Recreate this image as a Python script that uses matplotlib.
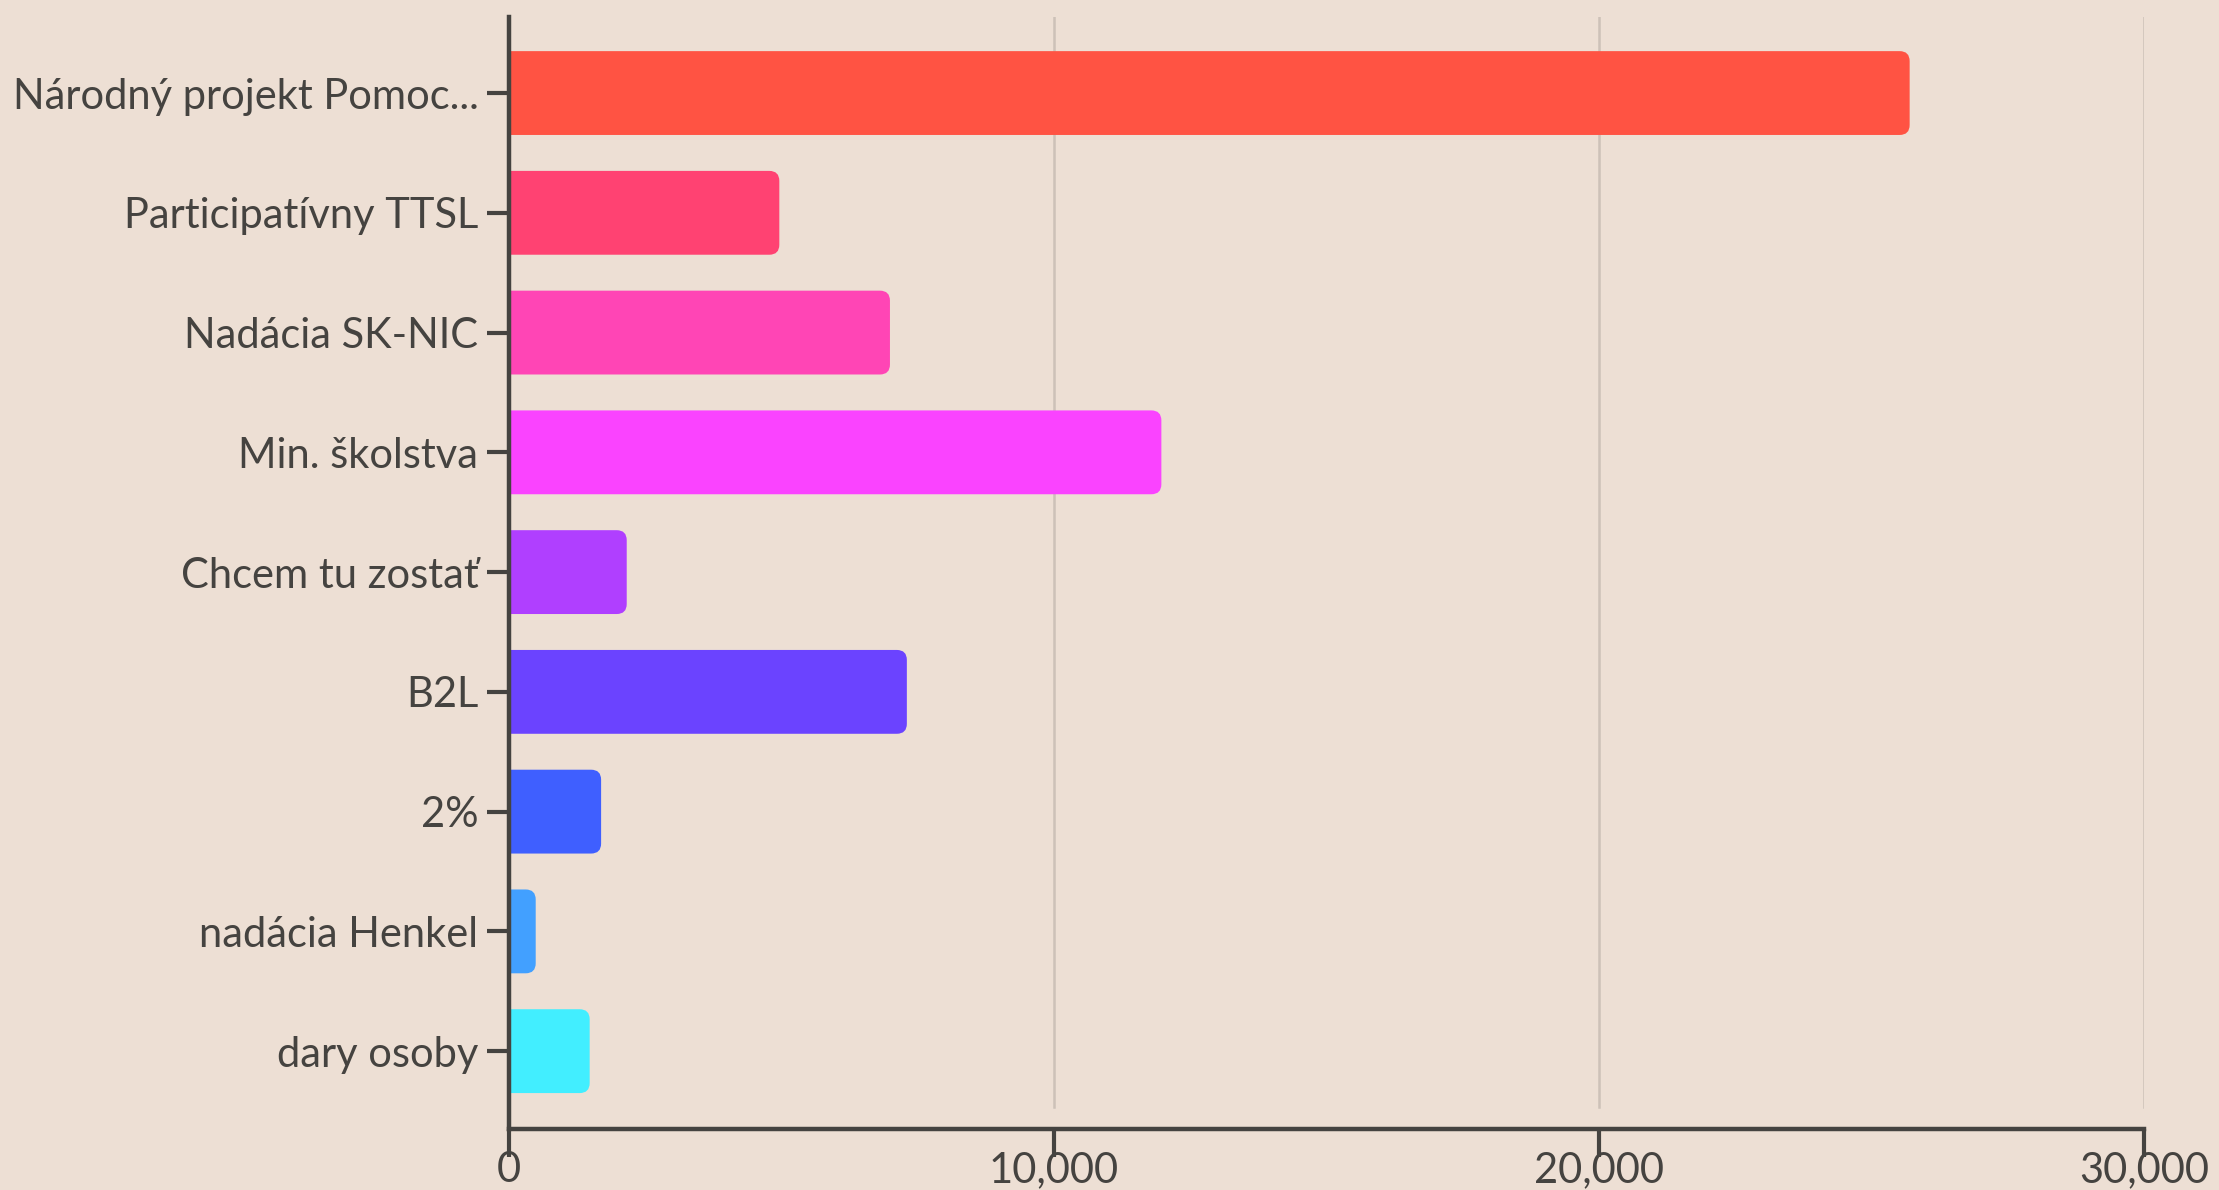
import matplotlib
matplotlib.use("Agg")
import matplotlib.pyplot as plt
from matplotlib.patches import FancyBboxPatch
from matplotlib.ticker import FuncFormatter

categories = ["Národný projekt Pomoc...", "Participatívny TTSL", "Nadácia SK-NIC",
              "Min. školstva", "Chcem tu zostať", "B2L", "2%", "nadácia Henkel", "dary osoby"]
values = [25700, 4960, 6990, 11970, 2160, 7300, 1690, 490, 1480]
colors = ["#FF5343", "#FF4272", "#FF45B5", "#FA43FF", "#B03FFF", "#6B43FF",
          "#3F5FFF", "#42A0FF", "#42EEFF"]
xticks = [0, 10000, 20000, 30000]

plt.rcParams['font.family'] = ['Lato', 'DejaVu Sans']
BG = "#EDDFD4"
INK = "#454340"

W, H, DPI = 2219, 1190, 100
fig = plt.figure(figsize=(W / DPI, H / DPI), dpi=DPI, facecolor=BG)
ax = fig.add_axes([509 / W, 1 - 1129 / H, (2144 - 509) / W, (1129 - 17) / H])
ax.set_facecolor(BG)

ypos = list(range(len(categories)))
bars = ax.barh(ypos, values, height=0.7, color=colors)
ax.set_xlim(0, 30000)
ax.set_ylim(8.65, -0.635)

# rounded right ends
ax_w_px = 2144 - 509
ax_h_px = 1129 - 17
xu_per_px = 30000 / ax_w_px
yu_per_px = (8.65 + 0.635) / ax_h_px
r_px = 10
for b in bars:
    b.set_visible(False)
    x0, y0, w, h = b.get_x(), b.get_y(), b.get_width(), b.get_height()
    ext = 300
    p = FancyBboxPatch((x0 - ext, y0), w + ext, h,
                       boxstyle=f"round,pad=0,rounding_size={r_px * xu_per_px}",
                       mutation_aspect=yu_per_px / xu_per_px,
                       facecolor=b.get_facecolor(), edgecolor="none", zorder=2)
    ax.add_patch(p)

ax.set_yticks(ypos)
ax.set_yticklabels(categories)
ax.set_xticks(xticks)
ax.xaxis.set_major_formatter(FuncFormatter(lambda v, p: f"{int(v):,}"))

for v in xticks[1:]:
    ax.axvline(v, ymin=0.02, ymax=1, color="#CDC1B8", lw=1.8, zorder=1)

for s in ["top", "right"]:
    ax.spines[s].set_visible(False)
for s in ["left", "bottom"]:
    ax.spines[s].set_color(INK)
    ax.spines[s].set_linewidth(3.2)
    ax.spines[s].set_zorder(3)

ax.tick_params(axis="y", length=16, width=3, color=INK, pad=6, labelsize=30, labelcolor=INK)
ax.tick_params(axis="x", length=20, width=3, color=INK, pad=-4, labelsize=30, labelcolor=INK)

fig.savefig("out.png", dpi=DPI, facecolor=BG)
